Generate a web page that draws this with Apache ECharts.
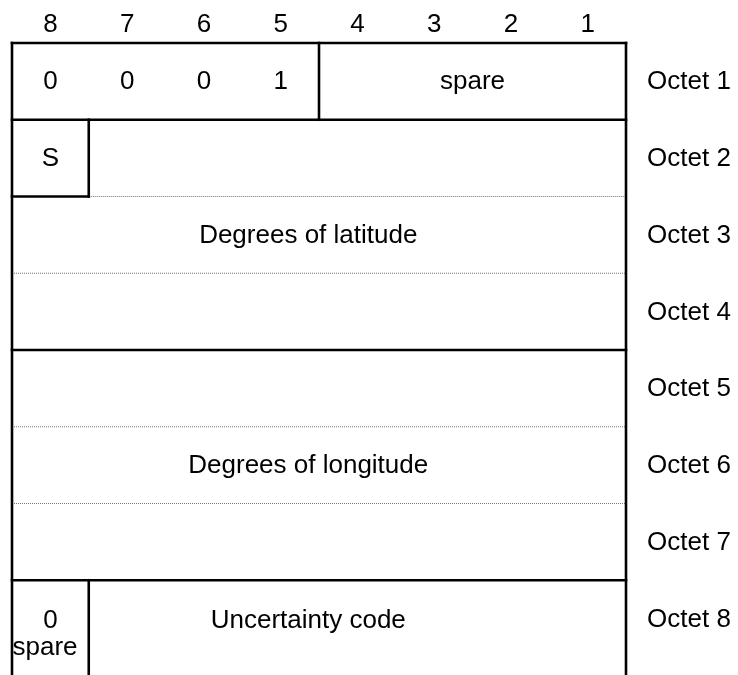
<!DOCTYPE html>
<html>
<head>
<meta charset="utf-8">
<script src="https://cdn.jsdelivr.net/npm/echarts@6/dist/echarts.min.js"></script>
<style>
  html, body { margin: 0; padding: 0; background: #fff; }
  #chart { width: 738px; height: 675px; }
</style>
</head>
<body>
<div id="chart"></div>
<script>
// bit numbers over the columns, left to right
const bitLabels = ['8', '7', '6', '5', '4', '3', '2', '1']
// one label per octet row
const octetLabels = ['Octet 1', 'Octet 2', 'Octet 3', 'Octet 4', 'Octet 5', 'Octet 6', 'Octet 7', 'Octet 8']
// field texts: [column (0 = left edge, 8 = right edge), row (octet units from top), text]
const fieldCols = [0.5, 1.5, 2.5, 3.5, 6, 0.5, 3.86, 3.86, 0.5, 0.43, 3.86]
const fieldRows = [0.51, 0.51, 0.51, 0.51, 0.51, 1.51, 2.51, 5.51, 7.53, 7.88, 7.53]
const fieldTexts = ['0', '0', '0', '1', 'spare', 'S', 'Degrees of latitude', 'Degrees of longitude', '0', 'spare', 'Uncertainty code']
// frame rules in grid units [x1, y1, x2, y2]
const solidRules = [
  [0, 0, 8, 0], [0, 0, 0, 8.3], [8, 0, 8, 8.3],
  [4, 0, 4, 1], [0, 1, 8, 1],
  [1, 1, 1, 2], [0, 2, 1, 2],
  [0, 4, 8, 4], [0, 7, 8, 7], [1, 7, 1, 8.3]
]
const dottedRules = [
  [1, 2, 8, 2], [0, 3, 8, 3], [0, 5, 8, 5], [0, 6, 8, 6]
]

const font = '26px "Liberation Sans", Arial, sans-serif'

function ruleSeries (rules, style) {
  return {
    type: 'custom',
    silent: true,
    clip: false,
    data: rules,
    renderItem (params, api) {
      let p1 = api.coord([api.value(0), api.value(1)])
      let p2 = api.coord([api.value(2), api.value(3)])
      return {
        type: 'line',
        shape: { x1: p1[0], y1: p1[1], x2: p2[0], y2: p2[1] },
        style: style
      }
    }
  }
}

function textSeries (data, align) {
  return {
    type: 'custom',
    silent: true,
    clip: false,
    data: data,
    renderItem (params, api) {
      let p = api.coord([api.value(0), api.value(1)])
      return {
        type: 'text',
        x: p[0],
        y: p[1],
        style: {
          text: data[params.dataIndex][2],
          font: font,
          fill: '#000',
          align: align,
          verticalAlign: 'middle'
        }
      }
    }
  }
}

let fieldData = fieldTexts.map((t, i) => [fieldCols[i], fieldRows[i], t])
let bitData = bitLabels.map((t, i) => [i + 0.5, -0.24, t])
let octetData = octetLabels.map((t, i) => [8.274, i + 0.51, t])

let mychart = echarts.init(document.getElementById('chart'))
mychart.setOption({
  animation: false,
  backgroundColor: '#fff',
  grid: { left: 12, top: 43, width: 614, height: 614 },
  xAxis: { type: 'value', min: 0, max: 8, show: false },
  yAxis: { type: 'value', min: 0, max: 8, inverse: true, show: false },
  series: [
    ruleSeries(dottedRules, { stroke: '#777', lineWidth: 1, lineDash: [1, 1] }),
    ruleSeries(solidRules, { stroke: '#000', lineWidth: 2.6, lineCap: 'square' }),
    textSeries(fieldData, 'center'),
    textSeries(bitData, 'center'),
    textSeries(octetData, 'left')
  ]
})
</script>
</body>
</html>
